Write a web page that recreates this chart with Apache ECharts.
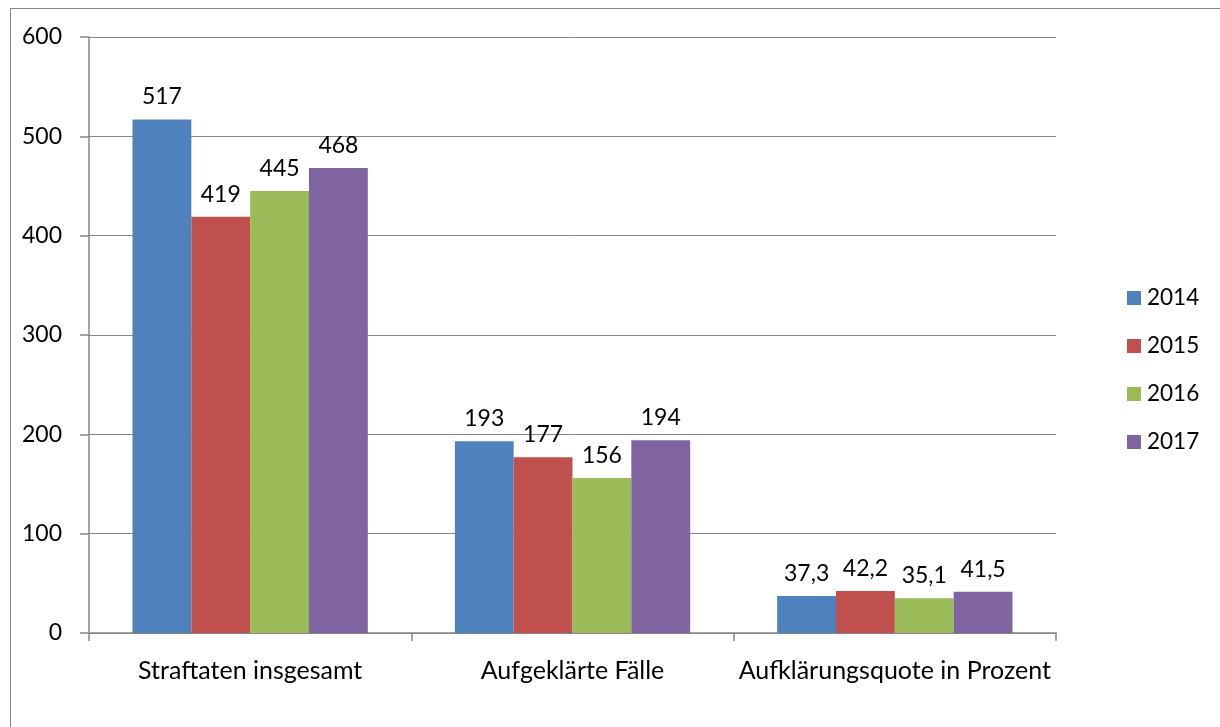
<!DOCTYPE html>
<html><head><meta charset="utf-8">
<script src="https://cdn.jsdelivr.net/npm/echarts@6/dist/echarts.min.js"></script>
<style>
html,body{margin:0;padding:0;background:#fff;}
#frame{position:absolute;left:10px;top:8px;width:1220px;height:740px;border:1px solid #868686;box-sizing:border-box;}
#c{position:absolute;left:0;top:0;width:1220px;height:727px;}
</style></head><body>
<div id="frame"></div>
<div id="c"></div>
<script>
const categories = ['Straftaten insgesamt', 'Aufgeklärte Fälle', 'Aufklärungsquote in Prozent'];
const years = ['2014', '2015', '2016', '2017'];
const v2014 = [517, 193, 37.3];
const v2015 = [419, 177, 42.2];
const v2016 = [445, 156, 35.1];
const v2017 = [468, 194, 41.5];
const colors = ['#4F81BD', '#C0504D', '#9BBB59', '#8064A2'];
const seriesValues = [v2014, v2015, v2016, v2017];
const FONT = 'Lato';
const FS = 23;
const chart = echarts.init(document.getElementById('c'), null, {renderer: 'canvas'});
chart.setOption({
  animation: false,
  textStyle: {fontFamily: FONT},
  grid: {left: 89, right: 164, top: 37, bottom: 94, containLabel: false},
  legend: {
    orient: 'vertical', left: 1122, top: 281, itemGap: 24,
    itemWidth: 14, itemHeight: 14, icon: 'rect',
    textStyle: {fontSize: 22.5, lineHeight: 24, color: '#000', fontFamily: FONT, padding: [0,0,0,1]},
    data: years
  },
  xAxis: {
    type: 'category', data: categories,
    axisLine: {lineStyle: {color: '#868686', width: 1.5}},
    axisTick: {show: true, length: 8, lineStyle: {color: '#868686', width: 1.5}},
    axisLabel: {interval: 0, fontSize: 25, color: '#000', margin: 25, fontFamily: FONT}
  },
  yAxis: {
    type: 'value', min: 0, max: 600, interval: 100,
    axisLine: {show: true, lineStyle: {color: '#868686', width: 1.5}},
    axisTick: {show: true, length: 9, lineStyle: {color: '#868686', width: 1.5}},
    splitLine: {lineStyle: {color: '#868686', width: 1}},
    axisLabel: {fontSize: FS, color: '#000', margin: 27, fontFamily: FONT}
  },
  series: years.map((y, i) => ({
    name: y, type: 'bar', data: seriesValues[i],
    barGap: '0%', barCategoryGap: '27%',
    itemStyle: {color: colors[i]},
    label: {
      show: true, position: 'top', distance: 11, fontSize: FS, color: '#000', fontFamily: FONT,
      formatter: p => String(p.value).replace('.', ',')
    }
  }))
});
</script>
</body></html>
